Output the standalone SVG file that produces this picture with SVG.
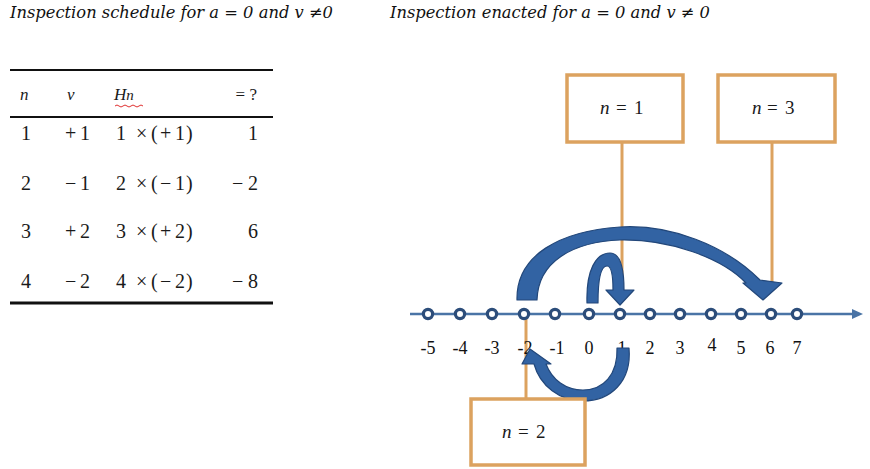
<svg xmlns="http://www.w3.org/2000/svg" width="870" height="469" viewBox="0 0 870 469">
<style>
.title{font-family:"DejaVu Serif","Liberation Serif",serif;font-style:italic;font-size:16.5px;fill:#111}
.tab{font-family:"Liberation Serif","Times New Roman",serif;font-size:20px;fill:#1a1a1a}
.hdr{font-family:"Liberation Serif","Times New Roman",serif;font-size:17px;fill:#1a1a1a}
.it{font-style:italic}
.rule{stroke:#111;fill:none}
.lbl{font-family:"Liberation Serif","Times New Roman",serif;font-size:18px;fill:#111;text-anchor:middle}
.box{fill:#fff;stroke:#DCA25F;stroke-width:3.5}
.btxt{font-family:"Liberation Serif","Times New Roman",serif;font-size:19px;fill:#1a1a1a}
.conn{stroke:#DCA25F;stroke-width:3;fill:none}
.dot{fill:#fff;stroke:#2C4D7A;stroke-width:3.2}
.jump{fill:#3263A3;stroke:#22477A;stroke-width:1.2;stroke-linejoin:round}
</style>
<rect width="870" height="469" fill="#fff"/>

<g id="titles">
<text class="title" x="10" y="18" textLength="323" lengthAdjust="spacingAndGlyphs">Inspection schedule for a = 0 and v ≠0</text>
<text class="title" x="390" y="18" textLength="320" lengthAdjust="spacingAndGlyphs">Inspection enacted for a = 0 and v ≠ 0</text>
</g>

<g id="table">
<line class="rule" x1="10" y1="70" x2="273" y2="70" stroke-width="2"/>
<line class="rule" x1="10" y1="117" x2="273" y2="117" stroke-width="2"/>
<line class="rule" x1="10" y1="303" x2="273" y2="303" stroke-width="3"/>
<text class="hdr it" x="20" y="100">n</text>
<text class="hdr it" x="67" y="100">v</text>
<text class="hdr it" x="114" y="100">H<tspan font-size="15">n</tspan></text>
<path d="M115,106 q2,-2 4,0 t4,0 t4,0 t4,0 t4,0 t4,0 t4,0" fill="none" stroke="#E03030" stroke-width="1"/>
<text class="hdr" x="257" y="100" text-anchor="end">= ?</text>

<text class="tab" x="21" y="140">1</text>
<text class="tab" x="65 80" y="140">+1</text>
<text class="tab" x="116 136 151 160 175 186" y="140">1×(+1)</text>
<text class="tab" x="258" y="140" text-anchor="end">1</text>

<text class="tab" x="21" y="190">2</text>
<text class="tab" x="65 80" y="190">−1</text>
<text class="tab" x="116 136 151 160 175 186" y="190">2×(−1)</text>
<text class="tab" x="232 248" y="190">−2</text>

<text class="tab" x="21" y="238">3</text>
<text class="tab" x="65 80" y="238">+2</text>
<text class="tab" x="116 136 151 160 175 186" y="238">3×(+2)</text>
<text class="tab" x="258" y="238" text-anchor="end">6</text>

<text class="tab" x="21" y="288">4</text>
<text class="tab" x="65 80" y="288">−2</text>
<text class="tab" x="116 136 151 160 175 186" y="288">4×(−2)</text>
<text class="tab" x="232 248" y="288">−8</text>
</g>

<g id="connectors">
<line class="conn" x1="622" y1="142" x2="622" y2="290"/>
<line class="conn" x1="772" y1="142" x2="772" y2="290"/>
<line class="conn" x1="526" y1="318" x2="526" y2="399"/>
</g>

<g id="numberline">
<line x1="410" y1="314" x2="853" y2="314" stroke="#4A74A6" stroke-width="2.5"/>
<polygon points="852,309 863,314 852,319" fill="#4A74A6"/>
<g>
<circle class="dot" cx="428" cy="314" r="4.6"/>
<circle class="dot" cx="460" cy="314" r="4.6"/>
<circle class="dot" cx="492" cy="314" r="4.6"/>
<circle class="dot" cx="524" cy="314" r="4.6"/>
<circle class="dot" cx="555" cy="314" r="4.6"/>
<circle class="dot" cx="589" cy="314" r="4.6"/>
<circle class="dot" cx="620" cy="314" r="4.6"/>
<circle class="dot" cx="650" cy="314" r="4.6"/>
<circle class="dot" cx="680" cy="314" r="4.6"/>
<circle class="dot" cx="711" cy="314" r="4.6"/>
<circle class="dot" cx="741" cy="314" r="4.6"/>
<circle class="dot" cx="771" cy="314" r="4.6"/>
<circle class="dot" cx="797" cy="314" r="4.6"/>
</g>
<g>
<text class="lbl" x="428" y="354">-5</text>
<text class="lbl" x="460" y="354">-4</text>
<text class="lbl" x="492" y="354">-3</text>
<text class="lbl" x="525" y="354">-2</text>
<text class="lbl" x="557" y="354">-1</text>
<text class="lbl" x="589" y="354">0</text>
<text class="lbl" x="622" y="354">1</text>
<text class="lbl" x="650" y="354">2</text>
<text class="lbl" x="680" y="354">3</text>
<text class="lbl" x="712" y="351">4</text>
<text class="lbl" x="741" y="354">5</text>
<text class="lbl" x="770" y="354">6</text>
<text class="lbl" x="797" y="354">7</text>
</g>
</g>

<g id="jumps">
<path id="jump1" class="jump" d="M587,303 C586,270 596,253 610,253 C620,253 624,268 624,290 L634,290 L620,305 L606,290 L613,290 C613,273 611,266 607,266 C601,266 598,280 598,303 Z"/>
<path id="jump2" class="jump" d="M629,348 C632,382 610,401 583,401 C560,401 540,386 534,364 L522,364 L530,349 L551,364 L546,364 C552,380 566,390 583,390 C603,390 618,375 617,348 Z"/>
<path id="jump3" class="jump" d="M517,300 C516,255 560,231 620,227 C670,224 725,245 760,280 L782,283 L763,300 L743,283 L746,283 C722,258 670,239 620,240 C572,242 538,262 537,300 Z"/>
</g>

<g id="node-n1">
<rect class="box" x="567" y="75" width="116" height="67"/>
<text class="btxt" x="600 616 634" y="114"><tspan class="it">n</tspan>=1</text>
</g>
<g id="node-n3">
<rect class="box" x="718" y="75" width="117" height="67"/>
<text class="btxt" x="752 767 785" y="114"><tspan class="it">n</tspan>=3</text>
</g>
<g id="node-n2">
<rect class="box" x="471" y="399" width="114" height="66"/>
<text class="btxt" x="502 518 536" y="438"><tspan class="it">n</tspan>=2</text>
</g>
</svg>
